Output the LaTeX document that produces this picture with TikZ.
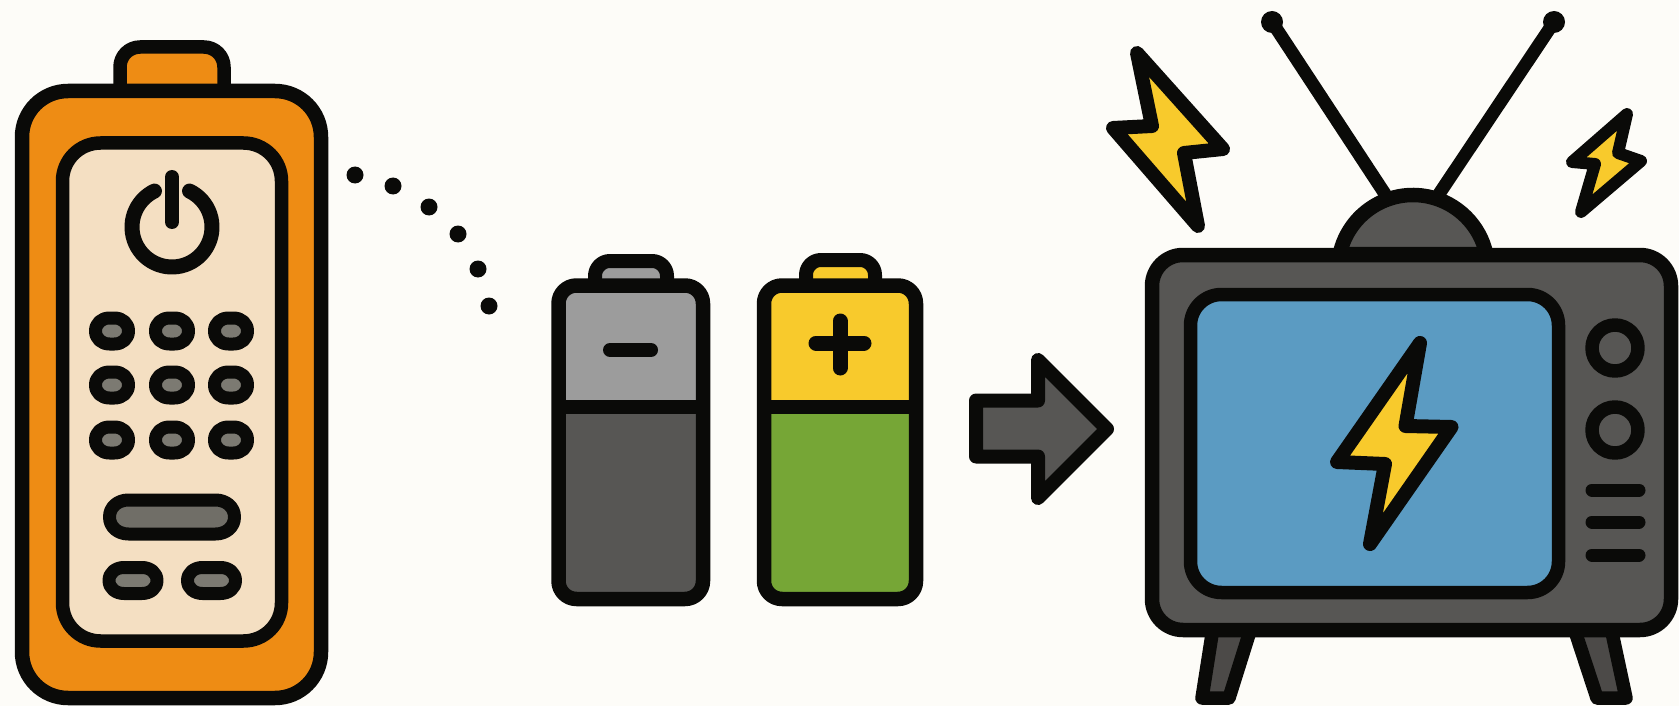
\documentclass[tikz,border=0pt]{standalone}
\definecolor{bgc}{HTML}{FDFCF8}
\definecolor{ink}{HTML}{0A0A08}
\definecolor{orangec}{HTML}{EE8C14}
\definecolor{creamc}{HTML}{F4DFC2}
\definecolor{btnc}{HTML}{7C7A72}
\definecolor{lgray}{HTML}{9C9C9C}
\definecolor{dgray}{HTML}{575654}
\definecolor{yellowc}{HTML}{F8CA2C}
\definecolor{greenc}{HTML}{76A636}
\definecolor{bluec}{HTML}{5B9BC2}
\definecolor{legc}{HTML}{4C4A48}
\tikzset{
  ol/.style={draw=ink,line width=#1,line join=round,line cap=round},
  ol/.default=14.5pt,
  bar/.style={draw=ink,line cap=round}
}
% pill: cx, cy, half width, half height, curve length, stroke, fill
\newcommand{\mypill}[7]{%
  \draw[ol=#6,fill=#7,shift={(#1,#2)}]
    ({-#3},0) .. controls ({-#3},{-0.6*#4}) and ({-#3+0.45*#5},{-#4}) .. ({-#3+#5},{-#4})
    -- ({#3-#5},{-#4}) .. controls ({#3-0.45*#5},{-#4}) and ({#3},{-0.6*#4}) .. ({#3},0)
    .. controls ({#3},{0.6*#4}) and ({#3-0.45*#5},{#4}) .. ({#3-#5},{#4})
    -- ({-#3+#5},{#4}) .. controls ({-#3+0.45*#5},{#4}) and ({-#3},{0.6*#4}) .. ({-#3},0) -- cycle;}
\begin{document}
\begin{tikzpicture}[x=1pt,y=-1pt]
\useasboundingbox (0,0) rectangle (1679,706);
\fill[bgc] (0,0) rectangle (1679,706);
% remote / big battery
\draw[ol=13.5pt,fill=orangec,rounded corners=20pt] (120,125) -- (120,47) -- (224,47) -- (224,125) -- cycle;
\draw[ol,fill=orangec,rounded corners=46pt] (22,91) rectangle (321,698);
\draw[ol=13.5pt,fill=creamc,rounded corners=38pt] (62.5,143) rectangle (281.5,641);
\draw[ol=15pt] (172,227) ++(-64:40) arc[start angle=-64,end angle=244,radius=40];
\draw[bar,line width=14pt] (172,177) -- (172,222);
\foreach \yy in {331,385,440}{
  \foreach \xx in {112,172,231}{
    \mypill{\xx}{\yy}{16.5}{13}{14}{13pt}{btnc}
  }
}
\mypill{172}{517}{62.5}{17}{19}{13pt}{btnc!90!black}
\mypill{133}{580.5}{24}{13}{15}{13pt}{btnc}
\mypill{211.5}{580.5}{24}{13}{15}{13pt}{btnc}
% dots
\foreach \xx/\yy in {355/175,393/186,429/207,458/234,478/269,489/306}{
  \fill[ink] (\xx,\yy) circle[radius=8.5];
}
% left battery
\draw[ol=14pt,fill=lgray,rounded corners=15pt] (595,305) -- (595,261) -- (667,261) -- (667,305) -- cycle;
\begin{scope}
  \clip[rounded corners=18pt] (558.5,285.5) rectangle (703,599);
  \fill[lgray] (550,280) rectangle (710,406);
  \fill[dgray] (550,406) rectangle (710,606);
\end{scope}
\draw[ol,rounded corners=18pt] (558.5,285.5) rectangle (703,599);
\draw[draw=ink,line width=14pt] (558.5,406.5) -- (703,406.5);
\draw[bar,line width=14pt] (610,350) -- (651,350);
% right battery
\draw[ol=14pt,fill=yellowc,rounded corners=15pt] (806,305) -- (806,260) -- (875,260) -- (875,305) -- cycle;
\begin{scope}
  \clip[rounded corners=18pt] (764,285.5) rectangle (916,599);
  \fill[yellowc] (755,280) rectangle (925,406);
  \fill[greenc] (755,406) rectangle (925,606);
\end{scope}
\draw[ol,rounded corners=18pt] (764,285.5) rectangle (916,599);
\draw[draw=ink,line width=14pt] (764,406.5) -- (916,406.5);
\draw[bar,line width=15pt] (816,343) -- (864,343);
\draw[bar,line width=15pt] (840,321) -- (840,368);
% arrow
\draw[ol=14pt,fill=dgray] (976,400.5) -- (1038,400.5) -- (1038,360) -- (1107,429) -- (1038,498) -- (1038,456.5) -- (976,456.5) -- cycle;
% bolts
\draw[ol=14pt,fill=yellowc] (1137,53) -- (1223,149) -- (1184,153) -- (1198,226) -- (1113,128) -- (1152,126) -- cycle;
\draw[ol=12pt,fill=yellowc] (1627,114) -- (1618,153) -- (1641,161) -- (1581,212) -- (1595,164) -- (1572,162) -- cycle;
% antenna
\draw[bar,line width=13pt] (1272,22) -- (1385,194);
\draw[bar,line width=13pt] (1554,22) -- (1439,194);
\fill[ink] (1272,22) circle[radius=11];
\fill[ink] (1554,22) circle[radius=11];
\draw[ol,fill=dgray] (1413,270) ++(192.3:75) arc[start angle=192.3,end angle=347.7,radius=75] -- cycle;
% legs
\draw[ol=13.5pt,fill=legc] (1213,628) -- (1251,628) -- (1229,698) -- (1202,698) -- cycle;
\draw[ol=13.5pt,fill=legc] (1574,628) -- (1611,628) -- (1626,698) -- (1597,698) -- cycle;
% tv
\draw[ol,fill=dgray,rounded corners=31pt] (1152,255) rectangle (1671,630);
\draw[ol=13.5pt,fill=bluec,rounded corners=31pt] (1190.5,294.5) rectangle (1558.5,592.5);
\draw[ol=14pt,fill=yellowc] (1420,343) -- (1405.5,426) -- (1451.5,427) -- (1370,544) -- (1385,464) -- (1337,462) -- cycle;
\draw[ol=13.5pt,fill=dgray] (1615,348) circle[radius=23];
\draw[ol=13.5pt,fill=dgray] (1615,430) circle[radius=23];
\foreach \yy in {490,522,555}{
  \draw[bar,line width=13pt] (1592,\yy) -- (1639,\yy);
}
\end{tikzpicture}
\end{document}
